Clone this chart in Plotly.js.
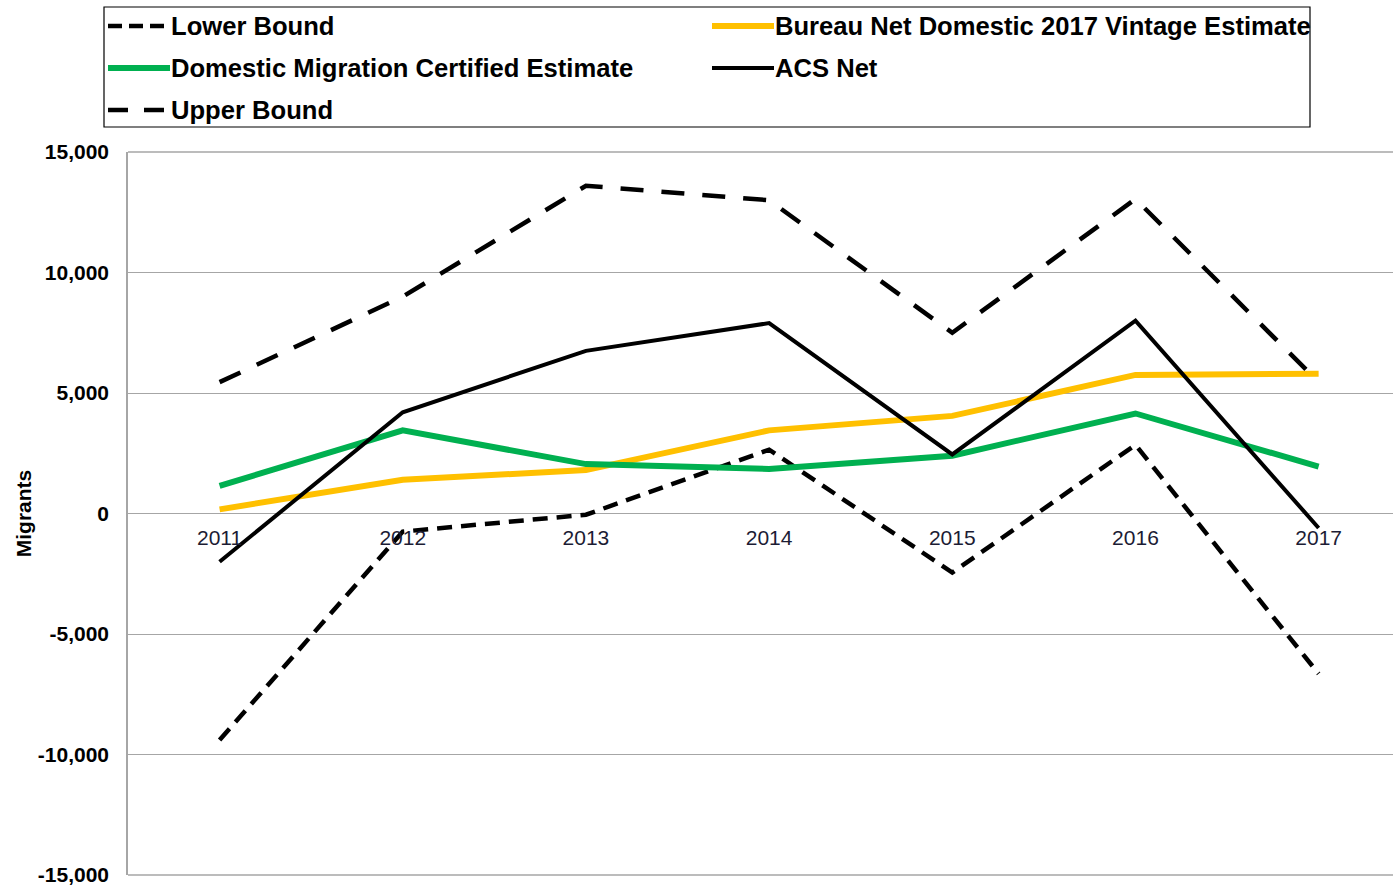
<!DOCTYPE html>
<html>
<head>
<meta charset="utf-8">
<script src="https://cdn.plot.ly/plotly-3.0.1.min.js"></script>
<style>html,body{margin:0;padding:0;background:#fff;overflow:hidden;}#chart{width:1393px;height:896px;}</style>
</head>
<body>
<div id="chart"></div>
<script>
// ---- data ----
const years = ['2011','2012','2013','2014','2015','2016','2017'];
const lowerBound = [-9400, -750, -50, 2650, -2450, 2850, -6650];
const bureauNet = [170, 1400, 1800, 3450, 4050, 5750, 5800];
const domesticCertified = [1150, 3450, 2050, 1850, 2400, 4150, 1950];
const acsNet = [-2000, 4200, 6750, 7900, 2450, 8000, -600];
const upperBound = [5450, 9000, 13600, 13000, 7500, 13050, 5450];
const yTickVals = [-15000, -10000, -5000, 0, 5000, 10000, 15000];
const seriesNames = ['Lower Bound', 'Bureau Net Domestic 2017 Vintage Estimate', 'Domestic Migration Certified Estimate', 'ACS Net', 'Upper Bound'];

// ---- layout helpers (pixel -> paper) ----
const W = 1393, H = 896, ML = 128, MR = 0, MT = 152, MB = 21;
const px = X => (X - ML) / (W - ML - MR);
const py = Y => (H - MB - Y) / (H - MT - MB);
const fontFam = '"Liberation Sans", Arial, sans-serif';
const gridCol = '#a6a6a6';

const styles = [
  {color: '#000000', width: 4.5, dash: '15px,9px'},
  {color: '#FFC000', width: 6, dash: 'solid'},
  {color: '#00B050', width: 6, dash: 'solid'},
  {color: '#000000', width: 4, dash: 'solid'},
  {color: '#000000', width: 4.5, dash: '23px,18px'}
];
const seriesVals = [lowerBound, bureauNet, domesticCertified, acsNet, upperBound];

const traces = seriesVals.map((v, i) => ({
  type: 'scatter', mode: 'lines', x: years, y: v, name: seriesNames[i],
  line: {color: styles[i].color, width: styles[i].width, dash: styles[i].dash},
  showlegend: false, hoverinfo: 'x+y+name'
}));

function fmt(v) {
  const s = Math.abs(v).toString().replace(/\B(?=(\d{3})+(?!\d))/g, ',');
  return (v < 0 ? '-' : '') + s;
}

// manual legend (two columns, row-major)
const legendPos = [
  {sx: 108, tx: 172, y: 26},
  {sx: 712, tx: 776, y: 26},
  {sx: 108, tx: 172, y: 68},
  {sx: 712, tx: 776, y: 68},
  {sx: 108, tx: 172, y: 110}
];
const shapes = [
  {type: 'rect', xref: 'paper', yref: 'paper', x0: px(104), x1: px(1310), y0: py(127), y1: py(7),
   line: {color: '#000', width: 1.2}, fillcolor: 'rgba(0,0,0,0)'},
  {type: 'line', xref: 'paper', yref: 'paper', x0: 0, x1: 1, y0: 1, y1: 1, line: {color: gridCol, width: 1.3}, layer: 'below'},
  {type: 'line', xref: 'paper', yref: 'paper', x0: 0, x1: 1, y0: 0, y1: 0, line: {color: gridCol, width: 1.5}, layer: 'below'}
];
const annotations = [];
seriesNames.forEach((n, i) => {
  const p = legendPos[i];
  shapes.push({type: 'line', xref: 'paper', yref: 'paper', x0: px(p.sx), x1: px(p.tx - 2), y0: py(p.y), y1: py(p.y),
    line: {color: styles[i].color, width: styles[i].width, dash: i === 0 ? '14px,7px' : (i === 4 ? '20px,16px' : 'solid')}});
  annotations.push({xref: 'paper', yref: 'paper', x: px(p.tx - 3), y: py(p.y), xanchor: 'left', yanchor: 'middle',
    text: n, showarrow: false, font: {family: fontFam, size: 25.6, color: '#000', weight: 'bold'}});
});

const layout = {
  width: W, height: H,
  margin: {l: ML, r: MR, t: MT, b: MB, pad: 0},
  paper_bgcolor: '#fff', plot_bgcolor: '#fff',
  showlegend: false,
  xaxis: {
    type: 'category', range: [-0.5, 6.406], anchor: 'free', position: 0.5,
    showgrid: false, zeroline: false, showline: false, ticks: '',
    tickfont: {family: fontFam, size: 21, color: '#1c1c34'}, ticklabelstandoff: 9,
    fixedrange: true
  },
  yaxis: {
    range: [-15000, 15000], tickmode: 'array', tickvals: yTickVals, ticktext: yTickVals.map(fmt),
    showgrid: true, gridcolor: gridCol, gridwidth: 1.3,
    zeroline: true, zerolinecolor: gridCol, zerolinewidth: 1.3,
    showline: true, linecolor: gridCol, linewidth: 1.5, ticks: '',
    ticklabelstandoff: 13,
    tickfont: {family: fontFam, size: 21, color: '#000', weight: 'bold'},
    title: {text: 'Migrants', font: {family: fontFam, size: 21, color: '#000', weight: 'bold'}, standoff: 0},
    fixedrange: true
  },
  shapes: shapes,
  annotations: annotations
};

Plotly.newPlot('chart', traces, layout, {displayModeBar: false});
</script>
</body>
</html>
